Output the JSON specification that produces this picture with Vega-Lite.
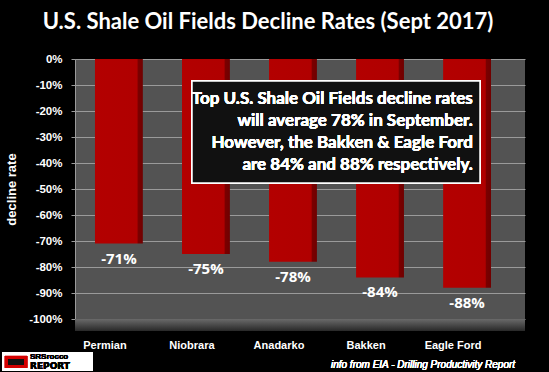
{
  "$schema": "https://vega.github.io/schema/vega-lite/v6.json",
  "autosize": "none",
  "width": 450,
  "height": 260,
  "padding": {"left": 75, "top": 59, "right": 24, "bottom": 53},
  "background": "#000000",
  "title": {
    "text": "U.S. Shale Oil Fields Decline Rates (Sept 2017)",
    "color": "#ffffff",
    "font": "Lato",
    "fontSize": 22,
    "fontWeight": "bold",
    "anchor": "middle",
    "dx": -32,
    "offset": 19
  },
  "config": {
    "view": {"fill": "#535353", "stroke": null},
    "axis": {"labelColor": "#ffffff", "labelFont": "Liberation Sans", "labelFontWeight": "bold", "labelFontSize": 11}
  },
  "data": {
    "values": [
      {"field": "Permian", "value": -71, "label": "-71%"},
      {"field": "Niobrara", "value": -75, "label": "-75%"},
      {"field": "Anadarko", "value": -78, "label": "-78%"},
      {"field": "Bakken", "value": -84, "label": "-84%"},
      {"field": "Eagle Ford", "value": -88, "label": "-88%"}
    ]
  },
  "resolve": {"scale": {"x": "independent"}, "axis": {"y": "independent"}},
  "layer": [
    {
      "encoding": {
        "x": {"field": "field", "type": "nominal", "sort": null,
          "scale": {"paddingInner": 0.45, "paddingOuter": 0.31, "align": 0.37},
          "axis": {"title": null, "labelAngle": 0, "domain": false, "ticks": false, "labelPadding": 20, "labelOffset": -14}},
        "y": {"field": "value", "type": "quantitative",
          "scale": {"domain": [-100, 0], "nice": false},
          "axis": {"values": [0, -10, -20, -30, -40, -50, -60, -70, -80, -90, -100],
            "labelExpr": "datum.value + '%'", "labelOverlap": false, "labelFontSize": 11.5,
            "gridColor": "#9a9a9a", "gridWidth": 1,
            "domainColor": "#9a9a9a", "tickColor": "#9a9a9a", "tickSize": 4, "labelPadding": 9,
            "title": "decline rate", "titleColor": "#ffffff", "titleFont": "Liberation Sans",
            "titleFontSize": 13, "titleFontWeight": "bold", "titlePadding": 10}}
      },
      "layer": [
        {
          "mark": {"type": "bar", "color": {"gradient": "linear", "x1": 0, "x2": 1, "y1": 0, "y2": 0,
            "stops": [{"offset": 0, "color": "#b30000"}, {"offset": 0.88, "color": "#b00000"}, {"offset": 0.9, "color": "#7a0000"}, {"offset": 1, "color": "#700000"}]}}
        },
        {
          "mark": {"type": "text", "color": "#ffffff", "font": "Open Sans", "fontWeight": "bold", "fontSize": 15, "baseline": "middle", "dy": 15},
          "encoding": {"text": {"field": "label"}}
        }
      ]
    },
    {
      "layer": [
        {
          "mark": {"type": "rect", "fill": {"gradient": "linear", "x1": 0, "x2": 0, "y1": 0, "y2": 1,
            "stops": [{"offset": 0, "color": "#6a6a6a"}, {"offset": 1, "color": "#2a2a2a"}]}},
          "encoding": {
            "x": {"datum": 0, "type": "quantitative", "scale": {"domain": [0, 5]}, "axis": null},
            "x2": {"datum": 5},
            "y": {"datum": -100, "type": "quantitative", "axis": null},
            "y2": {"datum": -104.5}
          }
        },
        {
          "mark": {"type": "rect", "fill": "#111111", "stroke": "#ffffff", "strokeWidth": 1.5},
          "encoding": {
            "x": {"datum": 1.3, "type": "quantitative", "scale": {"domain": [0, 5]}, "axis": null},
            "x2": {"datum": 4.5},
            "y": {"datum": -8.5, "type": "quantitative", "axis": null},
            "y2": {"datum": -47.7}
          }
        },
        {
          "mark": {"type": "text", "color": "#ffffff", "font": "Lato", "fontWeight": "bold", "fontSize": 17, "align": "right", "baseline": "middle", "lineHeight": 22},
          "encoding": {
            "x": {"datum": 4.42, "type": "quantitative", "scale": {"domain": [0, 5]}, "axis": null},
            "y": {"datum": -15.4, "type": "quantitative", "axis": null},
            "text": {"value": ["Top U.S. Shale Oil Fields decline rates", "will average 78% in September.", "However, the Bakken & Eagle Ford", "are 84% and 88% respectively."]}
          }
        },
        {
          "mark": {"type": "text", "color": "#ffffff", "font": "Liberation Sans", "fontStyle": "italic", "fontSize": 10, "align": "right", "baseline": "middle"},
          "encoding": {
            "x": {"datum": 4.89, "type": "quantitative", "scale": {"domain": [0, 5]}, "axis": null},
            "y": {"datum": -117.7, "type": "quantitative", "axis": null},
            "text": {"value": "info from EIA - Drilling Productivity Report"}
          }
        },
        {
          "mark": {"type": "rect", "fill": "#ffffff"},
          "encoding": {
            "x": {"datum": -0.81, "type": "quantitative", "scale": {"domain": [0, 5]}, "axis": null},
            "x2": {"datum": 0.2},
            "y": {"datum": -112.7, "type": "quantitative", "axis": null},
            "y2": {"datum": -120}
          }
        },
        {
          "mark": {"type": "rect", "fill": "#d40000"},
          "encoding": {
            "x": {"datum": -0.78, "type": "quantitative", "scale": {"domain": [0, 5]}, "axis": null},
            "x2": {"datum": -0.53},
            "y": {"datum": -114.2, "type": "quantitative", "axis": null},
            "y2": {"datum": -118.8}
          }
        },
        {
          "mark": {"type": "rect", "fill": "#111111"},
          "encoding": {
            "x": {"datum": -0.74, "type": "quantitative", "scale": {"domain": [0, 5]}, "axis": null},
            "x2": {"datum": -0.57},
            "y": {"datum": -115.4, "type": "quantitative", "axis": null},
            "y2": {"datum": -117.6}
          }
        },
        {
          "mark": {"type": "text", "color": "#000000", "font": "Liberation Sans", "fontWeight": "bold", "fontSize": 8, "align": "left", "baseline": "middle"},
          "encoding": {
            "x": {"datum": -0.5, "type": "quantitative", "scale": {"domain": [0, 5]}, "axis": null},
            "y": {"datum": -114.7, "type": "quantitative", "axis": null},
            "text": {"value": "SRSrocco"}
          }
        },
        {
          "mark": {"type": "text", "color": "#000000", "font": "DejaVu Sans", "fontWeight": "bold", "fontSize": 9, "align": "left", "baseline": "middle"},
          "encoding": {
            "x": {"datum": -0.5, "type": "quantitative", "scale": {"domain": [0, 5]}, "axis": null},
            "y": {"datum": -118.0, "type": "quantitative", "axis": null},
            "text": {"value": "REPORT"}
          }
        }
      ]
    }
  ]
}
